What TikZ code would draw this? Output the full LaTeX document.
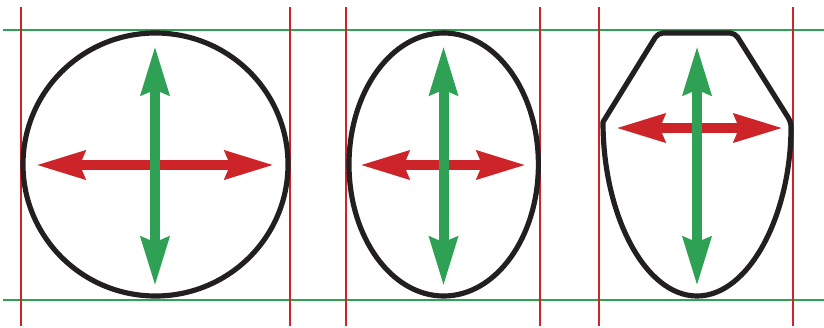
\documentclass[tikz,border=0pt]{standalone}
\usetikzlibrary{arrows.meta}
\definecolor{boxred}{RGB}{204,36,41}
\definecolor{boxgreen}{RGB}{46,161,84}
\definecolor{outline}{RGB}{35,31,32}
\tikzset{
  guidev/.style={
    draw=boxred,
    line width=0.06cm
  },
  guideh/.style={
    draw=boxgreen,
    line width=0.06cm
  },
  headshape/.style={
    draw=outline,
    line width=0.155cm,
    line join=round
  },
  widtharrow/.style={
    draw=boxred,
    line width=0.3cm,
    {Stealth[length=1.45cm,width=0.82cm,inset=0.14cm]}-{Stealth[length=1.45cm,width=0.82cm,inset=0.14cm]}
  },
  heightarrow/.style={
    draw=boxgreen,
    line width=0.3cm,
    {Stealth[length=1.45cm,width=0.82cm,inset=0.14cm]}-{Stealth[length=1.45cm,width=0.82cm,inset=0.14cm]}
  }
}
\begin{document}
\begin{tikzpicture}[x=0.03cm,y=-0.03cm]
            \useasboundingbox (0,0) rectangle (824,327);
            % guide lines
            \draw[guideh] (3,30) -- (824,30);
            \draw[guideh] (3,300) -- (824,300);
            \foreach \gx in {21,290,346,540,599,793}
                \draw[guidev] (\gx,7) -- (\gx,326);
            % outlines
            \draw[headshape] (155.5,164.5) ellipse [x radius=132.5, y radius=131.5];
            \draw[headshape] (443.7,164.5) ellipse [x radius=94.7, y radius=131.5];
            \draw[headshape] (697,296) .. controls (645,296) and (603,215) .. (603,122)
                [rounded corners=0.15cm] -- (658,33) -- (735,33) -- (791,122)
                [sharp corners] .. controls (791,215) and (749,296) .. (697,296) -- cycle;
            % arrows
            \coordinate (w1l) at (36,165);
            \coordinate (w1r) at (274,165);
            \coordinate (h1t) at (155,46);
            \coordinate (h1b) at (155,286);
            \coordinate (w2l) at (360,165);
            \coordinate (w2r) at (526,165);
            \coordinate (h2t) at (443.5,46);
            \coordinate (h2b) at (443.5,286);
            \coordinate (w3l) at (616,128);
            \coordinate (w3r) at (783,128);
            \coordinate (h3t) at (697,46);
            \coordinate (h3b) at (697,286);
            \draw[widtharrow] (w1l) -- (w1r);
            \draw[heightarrow] (h1t) -- (h1b);
            \draw[widtharrow] (w2l) -- (w2r);
            \draw[heightarrow] (h2t) -- (h2b);
            \draw[widtharrow] (w3l) -- (w3r);
            \draw[heightarrow] (h3t) -- (h3b);
\end{tikzpicture}
\end{document}
